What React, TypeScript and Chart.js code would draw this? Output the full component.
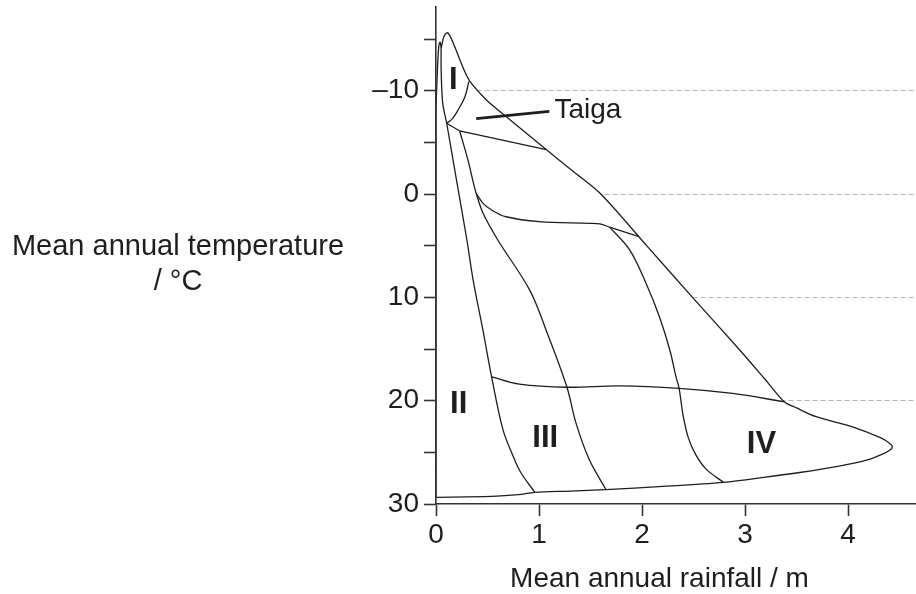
import React, { useEffect, useRef } from 'react';
import { Chart, registerables } from 'chart.js';

Chart.register(...registerables);

// ---- Data (x = mean annual rainfall / m, y = mean annual temperature / °C) ----
// Outer boundary of the whole biome region
const outerBoundary: [number, number][] = [
  [0, 29.36], [0.3, 29.32], [0.59, 29.24], [0.8, 29.1], [0.96, 28.88],
  [1.3, 28.75], [1.65, 28.6], [2.2, 28.3], [2.79, 27.9], [3.2, 27.4],
  [3.53, 26.95], [3.9, 26.35], [4.18, 25.75], [4.33, 25.2], [4.41, 24.75],
  [4.43, 24.45], [4.4, 24.1], [4.32, 23.6], [4.05, 22.55], [3.69, 21.55],
  [3.5, 20.7], [3.38, 20.1], [3.2, 18.0], [2.94, 15.0], [2.49, 10.0],
  [2.045, 5.0], [1.6, 0.0], [1.33, -2.2], [1.07, -4.3], [0.65, -7.75],
  [0.49, -9.1], [0.33, -10.9], [0.26, -12.3], [0.18, -14.3], [0.13, -15.4],
  [0.105, -15.6], [0.075, -15.2], [0.058, -14.5], [0.05, -14.2], [0.04, -14.7],
  [0.028, -14.4], [0.016, -12.5], [0.006, -10], [0, -8], [0, 29.36],
];
// Tundra (I) left edge, from the spike down to the junction
const tundraEdge: [number, number][] = [[0.05, -14.2], [0.05, -12.0], [0.065, -8.8], [0.104, -6.85]];
// Tundra / taiga arc
const tundraTaigaArc: [number, number][] = [[0.104, -6.85], [0.16, -7.3], [0.214, -8.13], [0.28, -9.4], [0.32, -10.9]];
// Lower edge of taiga
const taigaLower: [number, number][] = [[0.104, -6.85], [0.23, -6.1], [1.07, -4.3]];
// Desert (II) / grassland boundary
const desertEdge: [number, number][] = [
  [0.104, -6.85], [0.2, -1.3], [0.3, 4.45], [0.36, 8.3], [0.456, 13.2], [0.54, 17.7],
  [0.65, 22.8], [0.75, 25.4], [0.82, 26.9], [0.96, 28.88],
];
// Second descending boundary
const grassEdge: [number, number][] = [
  [0.23, -6.1], [0.31, -3.3], [0.36, -1.2], [0.39, -0.07], [0.457, 1.87], [0.6, 4.45],
  [0.91, 9.3], [1.07, 13.2], [1.27, 18.65], [1.36, 22.2], [1.49, 25.75], [1.65, 28.6],
];
// Upper near-horizontal boundary (around 2–4 °C)
const upperBand: [number, number][] = [
  [0.39, -0.07], [0.457, 0.9], [0.54, 1.55], [0.68, 2.2], [1.0, 2.68], [1.49, 2.84],
  [1.59, 2.9], [1.686, 3.2], [1.97, 4.13],
];
// Third descending boundary
const forestEdge: [number, number][] = [
  [1.686, 3.2], [1.88, 5.4], [2.04, 8.65], [2.17, 11.9], [2.27, 15.1], [2.33, 17.7],
  [2.36, 18.8], [2.4, 21.5], [2.45, 23.6], [2.52, 25.2], [2.62, 26.6], [2.79, 27.9],
];
// Lower near-horizontal boundary (around 18–20 °C)
const lowerBand: [number, number][] = [
  [0.54, 17.7], [0.81, 18.4], [1.27, 18.7], [1.78, 18.56], [2.36, 18.8], [2.88, 19.3], [3.38, 20.1],
];
// Pointer line for the "Taiga" label
const taigaPointer: [number, number][] = [[0.39, -7.3], [1.1, -8.0]];

// Region labels: text, x, y (baseline)
const regionLabels = ['I', 'II', 'III', 'IV'];
const regionLabelX = [0.169, 0.22, 1.06, 3.16];
const regionLabelY = [-10.13, 21.22, 24.45, 25.1];
const taigaLabel = 'Taiga';
const taigaLabelX = 1.15;
const taigaLabelY = -7.33;

// Axes
const xTickValues = [0, 1, 2, 3, 4];
const xTickLabels = ['0', '1', '2', '3', '4'];
const yTickValues = [-15, -10, -5, 0, 5, 10, 15, 20, 25, 30];
const yTickLabels = ['', '\u201310', '', '0', '', '10', '', '20', '', '30'];
const yGridValues = [-10, 0, 10, 20];
const xMin = 0, xMax = 4.66, yMin = -18.1, yMax = 30;
const xTitle = 'Mean annual rainfall / m';
const yTitleLines = ['Mean annual temperature', '/ \u00b0C'];

const FONT = "'Liberation Sans', Arial, Helvetica, sans-serif";
const INK = '#1e1e1e';

const toPts = (arr: [number, number][]) => arr.map(([x, y]) => ({ x, y }));

const regionFill = {
  id: 'regionFill',
  beforeDatasetsDraw(chart: any) {
    const line = chart.getDatasetMeta(0).dataset;
    if (!line) return;
    const a = chart.chartArea;
    const ctx = chart.ctx;
    if (line.updateControlPoints) line.updateControlPoints(a, 'x');
    ctx.save();
    ctx.beginPath();
    ctx.rect(a.left, a.top, a.right - a.left, a.bottom - a.top);
    ctx.clip();
    ctx.beginPath();
    line.path(ctx);
    ctx.closePath();
    ctx.fillStyle = '#ffffff';
    ctx.fill();
    ctx.restore();
  },
};

const textPlugin = {
  id: 'textPlugin',
  afterDraw(chart: any) {
    const ctx = chart.ctx;
    const xs = chart.scales.x;
    const ys = chart.scales.y;
    ctx.save();
    ctx.fillStyle = INK;
    ctx.textBaseline = 'alphabetic';
    // region numerals
    ctx.font = `bold 31px ${FONT}`;
    ctx.textAlign = 'center';
    regionLabels.forEach((t, i) => {
      ctx.fillText(t, xs.getPixelForValue(regionLabelX[i]), ys.getPixelForValue(regionLabelY[i]));
    });
    // Taiga
    ctx.font = `28px ${FONT}`;
    ctx.textAlign = 'left';
    ctx.fillText(taigaLabel, xs.getPixelForValue(taigaLabelX), ys.getPixelForValue(taigaLabelY));
    // axis titles
    ctx.textAlign = 'center';
    ctx.font = `28px ${FONT}`;
    ctx.fillText(xTitle, 659.5, 587);
    ctx.font = `29px ${FONT}`;
    ctx.fillText(yTitleLines[0], 178, 255);
    ctx.fillText(yTitleLines[1], 178, 290);
    ctx.restore();
  },
};

export default function App() {
  const ref = useRef<HTMLCanvasElement | null>(null);
  useEffect(() => {
    if (!ref.current) return;
    const lineDs = (data: [number, number][], tension: number, width = 1.3) => ({
      data: toPts(data),
      showLine: true,
      borderColor: INK,
      borderWidth: width,
      pointRadius: 0,
      pointHoverRadius: 0,
      pointHitRadius: 0,
      tension,
      fill: false,
    });
    const chart = new Chart(ref.current, {
      type: 'scatter',
      data: {
        datasets: [
          lineDs(outerBoundary, 0.3),
          lineDs(tundraEdge, 0.3),
          lineDs(tundraTaigaArc, 0.4),
          lineDs(taigaLower, 0),
          lineDs(desertEdge, 0.35),
          lineDs(grassEdge, 0.35),
          lineDs(upperBand, 0.35),
          lineDs(forestEdge, 0.35),
          lineDs(lowerBand, 0.35),
          lineDs(taigaPointer, 0, 2.6),
        ] as any,
      },
      options: {
        animation: false,
        responsive: false,
        maintainAspectRatio: false,
        devicePixelRatio: 1,
        events: [],
        layout: { padding: { top: 7, left: 0, right: 0, bottom: 0 } },
        plugins: { legend: { display: false }, tooltip: { enabled: false }, title: { display: false } },
        scales: {
          x: {
            type: 'linear',
            min: xMin,
            max: xMax,
            afterBuildTicks: (s: any) => { s.ticks = xTickValues.map((v) => ({ value: v })); },
            afterFit: (s: any) => { s.height = 90; s.paddingLeft = 0; s.paddingRight = 0; },
            ticks: {
              autoSkip: false,
              maxRotation: 0,
              padding: 2,
              color: INK,
              font: { family: FONT, size: 28 },
              callback: (v: any) => { const i = xTickValues.indexOf(Number(v)); return i >= 0 ? xTickLabels[i] : ''; },
            },
            grid: { drawOnChartArea: false, tickLength: 12, tickWidth: 1.6, tickColor: '#333', color: 'rgba(0,0,0,0)' },
            border: { display: true, color: '#333', width: 1.6, z: 1 },
          },
          y: {
            type: 'linear',
            reverse: true,
            min: yMin,
            max: yMax,
            afterBuildTicks: (s: any) => { s.ticks = yTickValues.map((v) => ({ value: v })); },
            afterFit: (s: any) => { s.width = 436; s.paddingTop = 0; s.paddingBottom = 0; },
            ticks: {
              autoSkip: false,
              padding: 5,
              color: INK,
              font: { family: FONT, size: 28 },
              callback: (v: any) => { const i = yTickValues.indexOf(Number(v)); return i >= 0 ? yTickLabels[i] : ''; },
            },
            grid: {
              drawOnChartArea: true,
              tickLength: 12,
              tickWidth: 1.6,
              tickColor: '#333',
              lineWidth: 1,
              color: (c: any) => (c.tick && yGridValues.includes(c.tick.value) ? '#b5b5b5' : 'rgba(0,0,0,0)'),
            },
            border: { display: true, color: '#333', width: 1.6, z: 1, dash: [5, 3] },
          },
        },
      } as any,
      plugins: [regionFill, textPlugin],
    });
    return () => chart.destroy();
  }, []);
  return (
    <div style={{ position: 'fixed', left: 0, top: 0, width: 916, height: 594, background: '#fff' }}>
      <canvas ref={ref} width={916} height={594} style={{ display: 'block', width: 916, height: 594 }} />
    </div>
  );
}
